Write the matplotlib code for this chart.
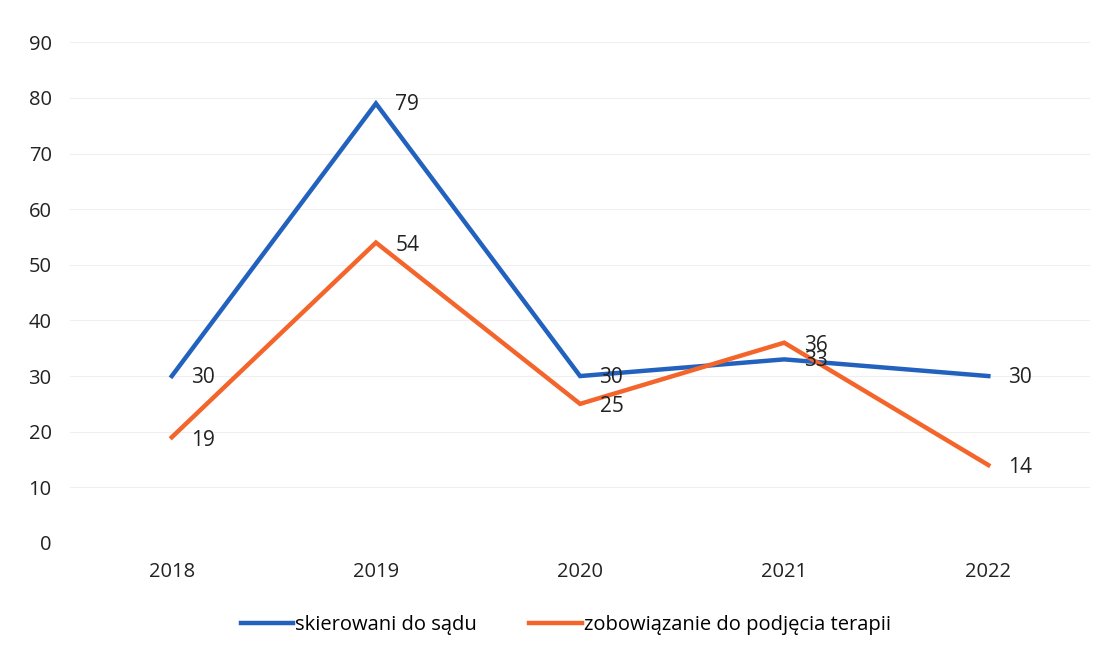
import matplotlib
matplotlib.use("Agg")
import matplotlib.pyplot as plt

plt.rcParams["font.family"] = ["Open Sans", "DejaVu Sans"]

YEARS = ["2018", "2019", "2020", "2021", "2022"]
SKIEROWANI = [30, 79, 30, 33, 30]
ZOBOWIAZANIE = [19, 54, 25, 36, 14]

BLUE, ORANGE, TEXT = "#2262BE", "#F4652C", "#222222"

fig = plt.figure(figsize=(11.07, 6.51), dpi=100)
ax = fig.add_axes([0.063, 0.166, 0.922, 0.769])

x = range(len(YEARS))
ax.plot(x, SKIEROWANI, color=BLUE, lw=3.2, label="skierowani do sądu", solid_joinstyle="miter")
ax.plot(x, ZOBOWIAZANIE, color=ORANGE, lw=3.2, label="zobowiązanie do podjęcia terapii",
        solid_joinstyle="miter")

# data labels sit just right of each point
for i, (b, o) in enumerate(zip(SKIEROWANI, ZOBOWIAZANIE)):
    ax.annotate(str(b), (i, b), xytext=(14, -1), textcoords="offset points",
                va="center", ha="left", fontsize=15, color=TEXT)
    ax.annotate(str(o), (i, o), xytext=(14, -2), textcoords="offset points",
                va="center", ha="left", fontsize=15, color=TEXT)

ax.set_xlim(-0.5, 4.5)
ax.set_ylim(0, 90)
ax.set_yticks(range(0, 91, 10))
ax.set_xticks(list(x))
ax.set_xticklabels(YEARS)
ax.tick_params(length=0, labelsize=14.5, colors=TEXT)
ax.tick_params(axis="y", pad=13)
ax.tick_params(axis="x", pad=14)
ax.grid(axis="y", color="#EFEFEF", lw=0.8)
ax.set_axisbelow(True)
for s in ax.spines.values():
    s.set_visible(False)

ax.legend(loc="upper center", bbox_to_anchor=(0.486, -0.108), ncol=2, frameon=False,
          fontsize=14.5, handlelength=2.6, handletextpad=0.1, columnspacing=2.6)

fig.savefig("out.png", facecolor="white")
